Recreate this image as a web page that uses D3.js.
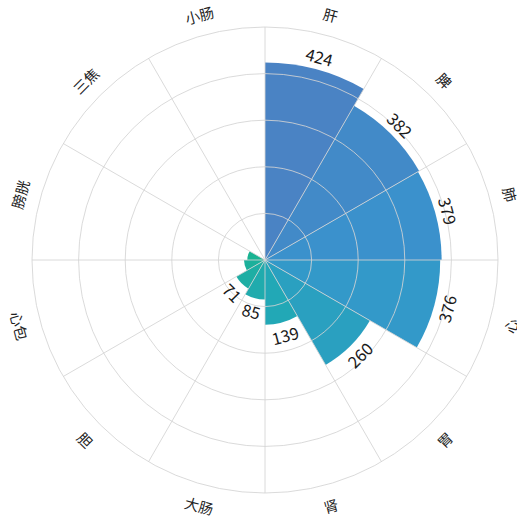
<!DOCTYPE html>
<html>
<head>
<meta charset="utf-8">
<script src="https://cdn.jsdelivr.net/npm/d3@7/dist/d3.min.js"></script>
<style>
  html, body { margin: 0; padding: 0; background: #fff; }
  svg { display: block; }
  text { font-family: "Noto Sans CJK SC", "Noto Sans", sans-serif; }
</style>
</head>
<body>
<svg id="chart" width="517" height="517"></svg>
<script>
// Organs around the circle, clockwise from 12 o'clock
const categories = ["肝", "脾", "肺", "心", "胃", "肾", "大肠", "胆", "心包", "膀胱", "三焦", "小肠"];
// Bar values per organ
const values = [424, 382, 379, 376, 260, 139, 85, 71, 45, 38, 0, 0];
// Which bars carry a value label
const showLabel = [true, true, true, true, true, true, true, true, false, false, false, false];
// Radial axis rings
const radialTicks = [100, 200, 300, 400, 500];

const width = 517, height = 517;
const cx = 265, cy = 260;
const outerR = 233;

const svg = d3.select("#chart");
const g = svg.append("g").attr("transform", `translate(${cx},${cy})`);

const angle = d3.scaleBand()
  .domain(categories)
  .range([0, 2 * Math.PI])
  .paddingInner(0).paddingOuter(0);

const radius = d3.scaleLinear()
  .domain([0, d3.max(radialTicks)])
  .range([0, outerR]);

// Blue-to-teal ramp along the category order
const color = d3.scaleLinear()
  .domain([0, 2.5, 5, 9])
  .range(["#4a83c4", "#3795ce", "#22a8b6", "#19b392"])
  .interpolate(d3.interpolateRgb);

const data = categories.map((c, i) => ({ name: c, value: values[i], label: showLabel[i], i }));

// Bars
const arc = d3.arc()
  .innerRadius(0)
  .outerRadius(d => radius(d.value))
  .startAngle(d => angle(d.name))
  .endAngle(d => angle(d.name) + angle.bandwidth());

g.append("g").selectAll("path")
  .data(data.filter(d => d.value > 0))
  .join("path")
  .attr("d", arc)
  .attr("fill", d => color(d.i));

// Grid: rings and spokes above the bars
const grid = g.append("g")
  .attr("fill", "none")
  .attr("stroke", "#d4d4d4")
  .attr("stroke-opacity", 0.85)
  .attr("stroke-width", 1);

grid.selectAll("circle")
  .data(radialTicks)
  .join("circle")
  .attr("r", d => radius(d));

grid.selectAll("line")
  .data(categories)
  .join("line")
  .attr("x1", 0).attr("y1", 0)
  .attr("x2", d => outerR * Math.sin(angle(d)))
  .attr("y2", d => -outerR * Math.cos(angle(d)));

// Tangential rotation that keeps text upright
function rot(a) {
  let deg = a * 180 / Math.PI;
  if (deg > 90 && deg < 270) deg -= 180;
  return deg;
}

// Value labels just beyond each bar end
g.append("g").selectAll("text")
  .data(data.filter(d => d.label))
  .join("text")
  .attr("transform", d => {
    const a = angle(d.name) + angle.bandwidth() / 2;
    const r = radius(d.value) + 13;
    return `translate(${r * Math.sin(a)},${-r * Math.cos(a)}) rotate(${rot(a)})`;
  })
  .attr("text-anchor", "middle")
  .attr("dominant-baseline", "central")
  .attr("font-size", 16.5)
  .attr("fill", "#1a1a1a")
  .text(d => d.value);

// Category labels around the rim
g.append("g").selectAll("text")
  .data(categories)
  .join("text")
  .attr("transform", d => {
    const a = angle(d) + angle.bandwidth() / 2;
    const r = outerR + 21;
    return `translate(${r * Math.sin(a)},${-r * Math.cos(a)}) rotate(${rot(a)})`;
  })
  .attr("text-anchor", "middle")
  .attr("dominant-baseline", "central")
  .attr("font-size", 14.5)
  .attr("fill", "#222")
  .text(d => d);
</script>
</body>
</html>
